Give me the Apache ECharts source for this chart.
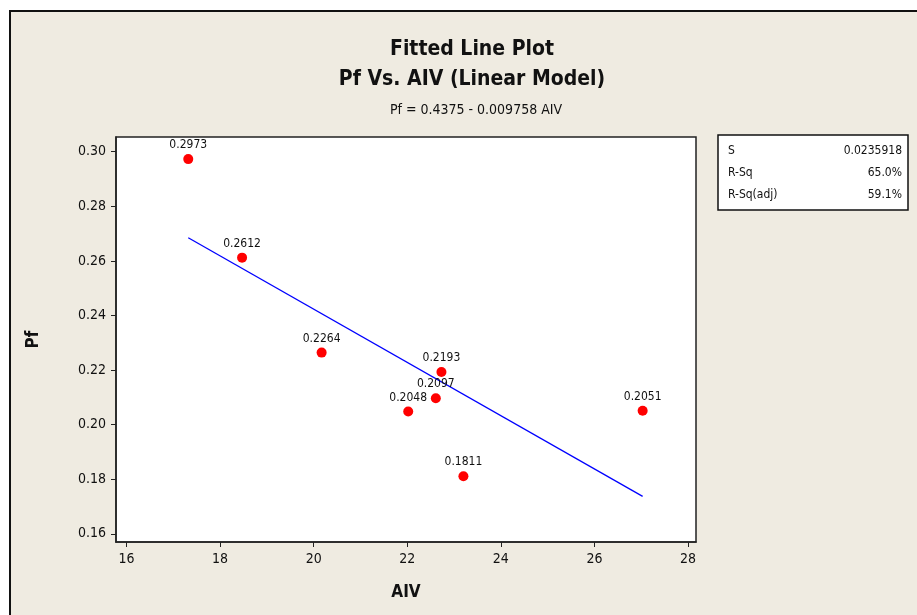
<!DOCTYPE html>
<html>
<head>
<meta charset="utf-8">
<title>Fitted Line Plot</title>
<script src="https://cdn.jsdelivr.net/npm/echarts@6.0.0/dist/echarts.min.js"></script>
<style>
  html, body { margin: 0; padding: 0; background: #ffffff; }
  #chart { width: 917px; height: 615px; }
</style>
</head>
<body>
<div id="chart"></div>
<script>
// data
var aiv = [17.32, 18.47, 20.17, 22.02, 22.61, 22.73, 23.20, 27.03];
var pf = [0.2973, 0.2612, 0.2264, 0.2048, 0.2097, 0.2193, 0.1811, 0.2051];
var fitX = [17.32, 27.03];
var fitY = [0.2685, 0.1737];
var xTicks = [16, 18, 20, 22, 24, 26, 28];
var yTicks = [0.16, 0.18, 0.20, 0.22, 0.24, 0.26, 0.28, 0.30];
var statNames = ['S', 'R-Sq', 'R-Sq(adj)'];
var statValues = ['0.0235918', '65.0%', '59.1%'];

var font = "'DejaVu Sans Condensed', 'DejaVu Sans', sans-serif";
var ink = '#111111';

var chart = echarts.init(document.getElementById('chart'));

var points = aiv.map(function (x, i) { return [x, pf[i]]; });
var fit = fitX.map(function (x, i) { return [x, fitY[i]]; });

// stats box
var box = { x: 718, y: 135, w: 190, h: 75 };
var statGraphics = [{
  type: 'rect',
  shape: { x: box.x, y: box.y, width: box.w, height: box.h },
  style: { fill: '#ffffff', stroke: '#111', lineWidth: 1.5 }
}];
statNames.forEach(function (name, i) {
  var cy = box.y + 16 + i * 22;
  statGraphics.push({
    type: 'text', x: box.x + 10, y: cy,
    style: { text: name, font: '12px ' + font, fill: ink, textVerticalAlign: 'middle' }
  });
  statGraphics.push({
    type: 'text', x: box.x + box.w - 6, y: cy,
    style: { text: statValues[i], font: '12px ' + font, fill: ink, textAlign: 'right', textVerticalAlign: 'middle' }
  });
});

var option = {
  backgroundColor: '#ffffff',
  animation: false,
  title: [
    { text: 'Fitted Line Plot', left: 467, top: 34, textAlign: 'center',
      textStyle: { fontFamily: font, fontSize: 21, fontWeight: 'bold', color: ink } },
    { text: 'Pf Vs. AIV (Linear Model)', left: 467, top: 64, textAlign: 'center',
      textStyle: { fontFamily: font, fontSize: 21, fontWeight: 'bold', color: ink } },
    { text: 'Pf = 0.4375 - 0.009758 AIV', left: 471, top: 98, textAlign: 'center',
      textStyle: { fontFamily: font, fontSize: 14, fontWeight: 'normal', color: ink } }
  ],
  graphic: [{
    type: 'rect', z: -10,
    shape: { x: 10, y: 11, width: 920, height: 620 },
    style: { fill: '#efebe1', stroke: '#111', lineWidth: 2 }
  }].concat(statGraphics),
  grid: {
    left: 116, top: 137, width: 580, height: 405,
    show: true, backgroundColor: '#ffffff', borderColor: '#222', borderWidth: 1.5
  },
  xAxis: {
    type: 'value', min: 15.776, max: 28.17,
    name: 'AIV', nameLocation: 'middle', nameGap: 42,
    nameTextStyle: { fontFamily: font, fontSize: 17, fontWeight: 'bold', color: ink },
    axisLine: { show: true, onZero: false, lineStyle: { color: '#222', width: 1.5 } },
    axisTick: { show: true, length: 5, customValues: xTicks, lineStyle: { color: '#222' } },
    axisLabel: { customValues: xTicks, margin: 10, fontFamily: font, fontSize: 14, color: ink },
    splitLine: { show: false }
  },
  yAxis: {
    type: 'value', min: 0.157, max: 0.3054,
    name: 'Pf', nameLocation: 'middle', nameGap: 74, nameRotate: 90,
    nameTextStyle: { fontFamily: font, fontSize: 17, fontWeight: 'bold', color: ink },
    axisLine: { show: true, onZero: false, lineStyle: { color: '#222', width: 1.5 } },
    axisTick: { show: true, length: 5, customValues: yTicks, lineStyle: { color: '#222' } },
    axisLabel: { customValues: yTicks, margin: 10, fontFamily: font, fontSize: 14, color: ink,
      formatter: function (v) { return v.toFixed(2); } },
    splitLine: { show: false }
  },
  series: [
    {
      type: 'line', data: fit, symbol: 'none', z: 2,
      lineStyle: { color: '#0000ff', width: 1.3 }
    },
    {
      type: 'scatter', data: points, symbol: 'circle', symbolSize: 10, z: 3,
      itemStyle: { color: '#ff0000', opacity: 1 },
      label: {
        show: true, position: 'top', distance: 3,
        fontFamily: font, fontSize: 12, color: ink, opacity: 1,
        formatter: function (p) { return p.value[1].toFixed(4); }
      }
    }
  ]
};

chart.setOption(option);
</script>
</body>
</html>
